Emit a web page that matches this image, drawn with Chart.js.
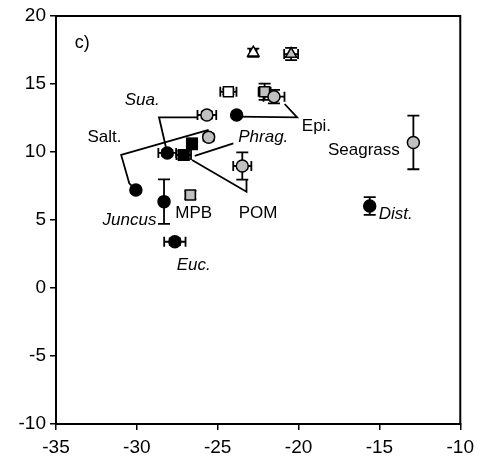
<!DOCTYPE html>
<html>
<head>
<meta charset="utf-8">
<script src="https://cdn.jsdelivr.net/npm/chart.js@4.4.0/dist/chart.umd.min.js"></script>
<style>
  html, body { margin: 0; padding: 0; background: #fff; }
</style>
</head>
<body>
<canvas id="myChart" width="480" height="469"></canvas>
<script>
// axes
var x_min = -35, x_max = -10;
var y_min = -10, y_max = 20;

// black filled circles
var black_circle_x    = [-23.83, -28.12, -30.06, -28.32, -27.65, -15.6];
var black_circle_y    = [12.72, 9.93, 7.2, 6.35, 3.4, 6.03];
var black_circle_xerr = [0, 0.55, 0, 0, 0.66, 0];
var black_circle_yerr = [0, 0.2, 0, 1.63, 0.25, 0.65];

// grey circles
var grey_circle_x    = [-21.52, -25.67, -25.56, -23.48, -12.9];
var grey_circle_y    = [14.07, 12.72, 11.08, 8.97, 10.7];
var grey_circle_xerr = [0.65, 0.58, 0.25, 0.56, 0];
var grey_circle_yerr = [0.5, 0.25, 0.25, 1.0, 1.97];

// black squares
var black_square_x    = [-26.59, -27.1];
var black_square_y    = [10.6, 9.78];
var black_square_xerr = [0.2, 0.45];
var black_square_yerr = [0.4, 0.3];

// grey squares
var grey_square_x    = [-22.1, -26.69];
var grey_square_y    = [14.43, 6.84];
var grey_square_xerr = [0.37, 0.3];
var grey_square_yerr = [0.6, 0.3];

// open squares
var open_square_x    = [-24.34];
var open_square_y    = [14.43];
var open_square_xerr = [0.5];
var open_square_yerr = [0.2];

// open triangles
var open_tri_x    = [-22.8];
var open_tri_y    = [17.3];
var open_tri_xerr = [0.2];
var open_tri_yerr = [0.3];

// grey triangles
var grey_tri_x    = [-20.46];
var grey_tri_y    = [17.2];
var grey_tri_xerr = [0.43];
var grey_tri_yerr = [0.45];

// leader lines (data coords)
var lead_epi_x   = [-23.83, -20.09, -20.86];
var lead_epi_y   = [12.6, 12.55, 13.53];
var lead_sua_x   = [-26.22, -28.63, -28.12];
var lead_sua_y   = [12.55, 12.55, 9.93];
var lead_salt_x  = [-25.56, -30.97, -30.47, -30.06];
var lead_salt_y  = [11.62, 9.78, 7.7, 7.2];
var lead_phrag_x = [-24.03, -26.42];
var lead_phrag_y = [10.64, 9.71];
var lead_pom_x   = [-26.59, -23.22, -23.22];
var lead_pom_y   = [9.41, 7.08, 7.94];

// text labels
var label_text   = ['c)', 'Sua.', 'Salt.', 'Epi.', 'Phrag.', 'Seagrass', 'Dist.', 'MPB', 'POM', 'Juncus', 'Euc.'];
var label_x      = [-33.84, -29.67, -32.0, -19.8, -23.73, -13.74, -15.04, -26.48, -22.5, -28.79, -27.54];
var label_y      = [17.99, 13.82, 11.08, 11.86, 11.08, 10.1, 5.44, 5.49, 5.49, 5.0, 1.69];
var label_italic = [false, true, false, false, true, false, true, false, false, true, true];
var label_align  = ['left', 'center', 'center', 'left', 'left', 'right', 'left', 'center', 'center', 'right', 'left'];

function pts(xs, ys) {
  var out = [];
  for (let i = 0; i < xs.length; i++) out.push({ x: xs[i], y: ys[i] });
  return out;
}

var GREY = '#c0c0c0';

function markers(xs, ys, xe, ye, style, fill, r) {
  return {
    type: 'scatter',
    data: pts(xs, ys),
    xErr: xe,
    yErr: ye,
    pointStyle: style,
    pointRadius: r,
    backgroundColor: fill,
    borderColor: '#000',
    borderWidth: 1.5,
    order: 0
  };
}

function leader(xs, ys) {
  return {
    type: 'line',
    data: pts(xs, ys),
    borderColor: '#000',
    borderWidth: 1.8,
    pointRadius: 0,
    fill: false,
    tension: 0,
    order: 10
  };
}

const errorBars = {
  id: 'errorBars',
  beforeDatasetsDraw(chart) {
    const ctx = chart.ctx;
    const xs = chart.scales.x, ys = chart.scales.y;
    const cap = 5;
    ctx.save();
    ctx.strokeStyle = '#000';
    ctx.lineWidth = 1.8;
    chart.data.datasets.forEach(ds => {
      if (!ds.xErr) return;
      ds.data.forEach((p, i) => {
        const px = xs.getPixelForValue(p.x), py = ys.getPixelForValue(p.y);
        const ex = ds.xErr[i], ey = ds.yErr[i];
        ctx.beginPath();
        if (ex > 0) {
          const l = xs.getPixelForValue(p.x - ex), r = xs.getPixelForValue(p.x + ex);
          ctx.moveTo(l, py); ctx.lineTo(r, py);
          ctx.moveTo(l, py - cap); ctx.lineTo(l, py + cap);
          ctx.moveTo(r, py - cap); ctx.lineTo(r, py + cap);
        }
        if (ey > 0) {
          const t = ys.getPixelForValue(p.y + ey), b = ys.getPixelForValue(p.y - ey);
          ctx.moveTo(px, t); ctx.lineTo(px, b);
          ctx.moveTo(px - cap - 1, t); ctx.lineTo(px + cap + 1, t);
          ctx.moveTo(px - cap - 1, b); ctx.lineTo(px + cap + 1, b);
        }
        ctx.stroke();
      });
    });
    ctx.restore();
  }
};

const labelsAndFrame = {
  id: 'labelsAndFrame',
  afterDatasetsDraw(chart) {
    const ctx = chart.ctx;
    const xs = chart.scales.x, ys = chart.scales.y;
    const a = chart.chartArea;
    ctx.save();
    ctx.strokeStyle = '#000';
    ctx.lineWidth = 2;
    ctx.strokeRect(a.left, a.top, a.right - a.left, a.bottom - a.top);
    ctx.fillStyle = '#000';
    ctx.textBaseline = 'middle';
    for (let i = 0; i < label_text.length; i++) {
      const size = i === 0 ? 18 : 17;
      ctx.font = (label_italic[i] ? 'italic ' : '') + size + 'px "Liberation Sans", Arial, sans-serif';
      ctx.textAlign = label_align[i];
      ctx.fillText(label_text[i], xs.getPixelForValue(label_x[i]), ys.getPixelForValue(label_y[i]));
    }
    ctx.restore();
  }
};

const tickFont = { family: '"Liberation Sans", Arial, sans-serif', size: 19 };

const config = {
  data: {
    datasets: [
      leader(lead_epi_x, lead_epi_y),
      leader(lead_sua_x, lead_sua_y),
      leader(lead_salt_x, lead_salt_y),
      leader(lead_phrag_x, lead_phrag_y),
      leader(lead_pom_x, lead_pom_y),
      markers(black_circle_x, black_circle_y, black_circle_xerr, black_circle_yerr, 'circle', '#000', 6),
      markers(grey_circle_x, grey_circle_y, grey_circle_xerr, grey_circle_yerr, 'circle', GREY, 6),
      markers(black_square_x, black_square_y, black_square_xerr, black_square_yerr, 'rect', '#000', 7.5),
      markers(grey_square_x, grey_square_y, grey_square_xerr, grey_square_yerr, 'rect', GREY, 7),
      markers(open_square_x, open_square_y, open_square_xerr, open_square_yerr, 'rect', '#fff', 7),
      markers(open_tri_x, open_tri_y, open_tri_xerr, open_tri_yerr, 'triangle', '#fff', 6.5),
      markers(grey_tri_x, grey_tri_y, grey_tri_xerr, grey_tri_yerr, 'triangle', GREY, 6.5)
    ]
  },
  options: {
    responsive: false,
    animation: false,
    layout: { padding: { top: 16, right: 16, left: 0, bottom: 0 } },
    plugins: { legend: { display: false }, tooltip: { enabled: false } },
    scales: {
      x: {
        type: 'linear',
        min: x_min, max: x_max,
        ticks: { stepSize: 5, color: '#000', font: tickFont, padding: 6, maxRotation: 0 },
        grid: { drawOnChartArea: false, drawTicks: true, tickLength: 6, color: '#000', lineWidth: 1.5 },
        border: { display: true, color: '#000', width: 2 },
        afterFit: function (scale) { scale.height = 45; }
      },
      y: {
        type: 'linear',
        min: y_min, max: y_max,
        ticks: { stepSize: 5, color: '#000', font: tickFont, padding: 4 },
        grid: { drawOnChartArea: false, drawTicks: true, tickLength: 6, color: '#000', lineWidth: 1.5 },
        border: { display: true, color: '#000', width: 2 },
        afterFit: function (scale) { scale.width = 56; }
      }
    }
  },
  plugins: [errorBars, labelsAndFrame]
};

var myChart = new Chart(document.getElementById('myChart'), config);
</script>
</body>
</html>
